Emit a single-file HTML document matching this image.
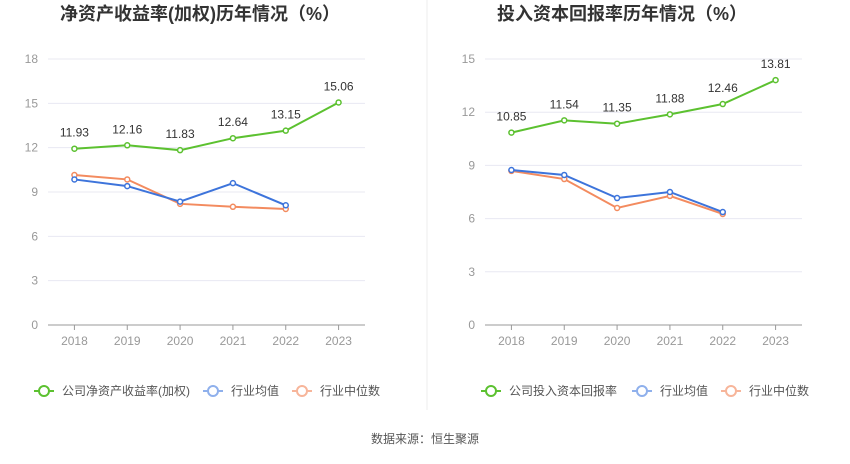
<!DOCTYPE html>
<html><head><meta charset="utf-8"><style>
body{margin:0;background:#fff;font-family:"Liberation Sans","Noto Sans CJK SC",sans-serif}
svg text{font-family:"Liberation Sans","Noto Sans CJK SC",sans-serif}
</style></head><body>
<svg id="c" width="850" height="459" xmlns="http://www.w3.org/2000/svg"></svg>
<script>
const years=["2018","2019","2020","2021","2022","2023"];
const roeCompany=[11.93,12.16,11.83,12.64,13.15,15.06];
const roeAvg=[9.85,9.4,8.35,9.6,8.1];
const roeMedian=[10.15,9.85,8.2,8.0,7.85];
const roeTicks=[0,3,6,9,12,15,18];
const roiCompany=[10.85,11.54,11.35,11.88,12.46,13.81];
const roiAvg=[8.74,8.46,7.16,7.5,6.37];
const roiMedian=[8.69,8.23,6.6,7.28,6.26];
const roiTicks=[0,3,6,9,12,15];
const NS="http://www.w3.org/2000/svg",svg=document.getElementById('c');
function mk(t,a,txt){const e=document.createElementNS(NS,t);for(const k in a)e.setAttribute(k,a[k]);if(txt!==undefined)e.textContent=txt;svg.appendChild(e);return e;}
const G="#5cc130",B="#3d74db",O="#f38b5f";
function chart(o){
 const x0=o.x0,x1=o.x1,yT=59,yB=325,max=o.ticks[o.ticks.length-1];
 const step=(x1-x0)/years.length;
 const X=i=>x0+step*(i+0.5), Y=v=>yB-(v/max)*(yB-yT);
 let t=mk('text',{x:o.titleX,y:20,'text-anchor':'middle','font-size':18,'font-weight':'bold',fill:'#333'},o.title);
 
 o.ticks.forEach(v=>{
  let l=mk('line',{x1:x0,x2:x1,y1:Y(v),y2:Y(v),stroke:v===0?'#999':'#e8e8f2','stroke-width':1});
  
  let tx=mk('text',{x:x0-10,y:Y(v)+4,'text-anchor':'end','font-size':12,fill:'#999'},String(v));
  
 });
 years.forEach((y,i)=>{
  let tk=mk('line',{x1:X(i),x2:X(i),y1:yB,y2:yB+5,stroke:'#999'});
  
  let tx=mk('text',{x:X(i),y:yB+20,'text-anchor':'middle','font-size':12,fill:'#999'},y);
  
 });
 [[o.median,O,'median'],[o.avg,B,'average'],[o.comp,G,'company']].forEach(([d,c,n])=>{
  let p=mk('polyline',{points:d.map((v,i)=>X(i)+','+Y(v)).join(' '),fill:'none',stroke:c,'stroke-width':2});
  
  d.forEach((v,i)=>{
   let ci=mk('circle',{cx:X(i),cy:Y(v),r:2.5,fill:'#fff',stroke:c,'stroke-width':1.5});
   
   if(n==='company'){
    let lb=mk('text',{x:X(i),y:Y(v)-12,'text-anchor':'middle','font-size':12,fill:'#333'},v.toFixed(2));
    
   }
  });
 });
 [[o.legend,G,o.lx[0]],['行业均值','#8fb0ec',o.lx[1]],['行业中位数','#f7b59a',o.lx[2]]].forEach(([s,c,lx])=>{
  let g=mk('line',{x1:lx,x2:lx+20,y1:391,y2:391,stroke:c,'stroke-width':2});
  
  let cc=mk('circle',{cx:lx+10,cy:391,r:5,fill:'#fff',stroke:c,'stroke-width':2});
  
  let tx=mk('text',{x:lx+28,y:395,'font-size':12,fill:'#555'},s);
  
 });
}
chart({id:'roe',x0:48,x1:365,titleX:200,ticks:roeTicks,comp:roeCompany,avg:roeAvg,median:roeMedian,title:'净资产收益率(加权)历年情况（%）',legend:'公司净资产收益率(加权)',lx:[34,203,292]});
chart({id:'roi',x0:485,x1:802,titleX:622,ticks:roiTicks,comp:roiCompany,avg:roiAvg,median:roiMedian,title:'投入资本回报率历年情况（%）',legend:'公司投入资本回报率',lx:[481,632,721]});
let d=mk('line',{x1:427,x2:427,y1:0,y2:410,stroke:'#eee'});

let s=mk('text',{x:425,y:443,'text-anchor':'middle','font-size':12,fill:'#555'},'数据来源：恒生聚源');

</script>
</body></html>
